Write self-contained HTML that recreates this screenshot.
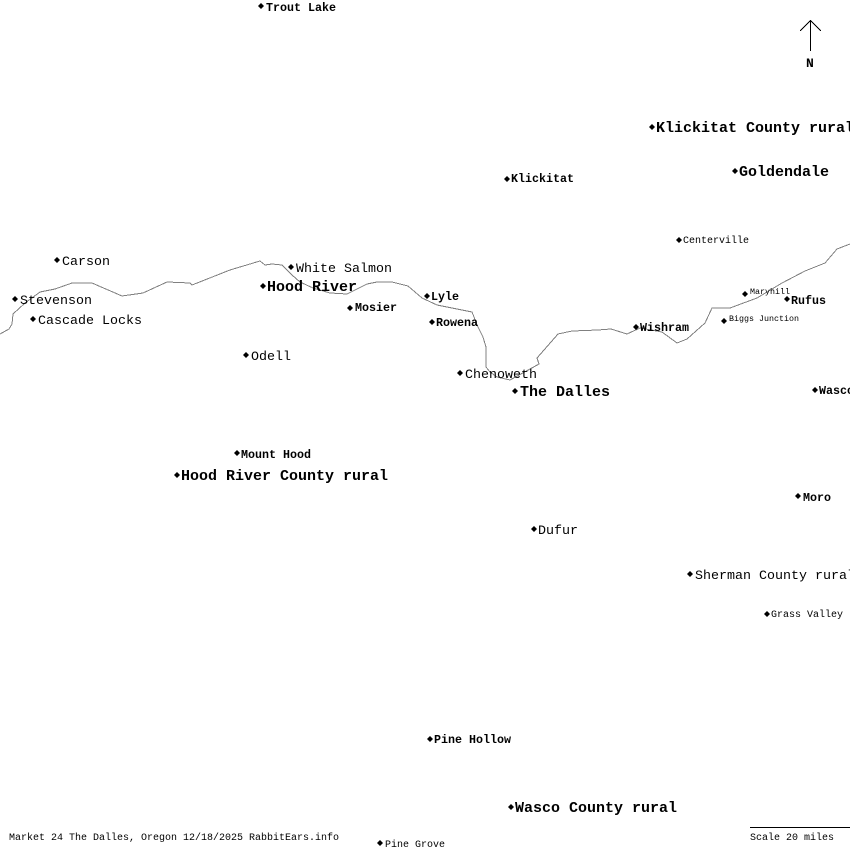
<!DOCTYPE html>
<html><head><meta charset="utf-8">
<style>
html,body{margin:0;padding:0;background:#fff;width:850px;height:850px;overflow:hidden}
svg{display:block}
text{font-family:"Liberation Mono","DejaVu Sans Mono",monospace;fill:#000;white-space:pre;transform:translateY(-1px)}
text.b{transform:none}
.b{font-weight:bold}
.s5{font-size:8.33px}.s6{font-size:10px}.s7{font-size:11.67px}.s8{font-size:13.33px}.s9{font-size:15px}
</style></head><body>
<svg width="850" height="850" viewBox="0 0 850 850" xmlns="http://www.w3.org/2000/svg">
<rect width="850" height="850" fill="#fff"/>
<polyline fill="none" stroke="#808080" stroke-width="1" shape-rendering="crispEdges" points="0,334 9,329 12,324 13,314 25,303 40,292 55,289 72,283 92,283 122,296 143,293 167,282 190,283 192,285 230,270 260,261 265,265 272,264 282,265 292,275 300,282 313,288 330,293 347,294 367,284 377,282 392,282 408,286 422,298 437,305 472,312 478,327 483,337 486,347 486,367 490,372 497,377 510,380 530,369 539,364 537,358 558,334 572,331 598,330 611,329 627,334 640,328 662,332 677,343 687,339 705,323 712,308 730,308 757,298 782,283 805,271 825,263 837,249 850,244"/>
<g fill="#000">
<polygon points="261,3 264,6 261,9 258,6"/>
<polygon points="652,124 655,127 652,130 649,127"/>
<polygon points="735,168 738,171 735,174 732,171"/>
<polygon points="507,176 510,179 507,182 504,179"/>
<polygon points="679,237 682,240 679,243 676,240"/>
<polygon points="57,257 60,260 57,263 54,260"/>
<polygon points="291,264 294,267 291,270 288,267"/>
<polygon points="263,283 266,286 263,289 260,286"/>
<polygon points="15,296 18,299 15,302 12,299"/>
<polygon points="427,293 430,296 427,299 424,296"/>
<polygon points="745,291 748,294 745,297 742,294"/>
<polygon points="787,296 790,299 787,302 784,299"/>
<polygon points="350,305 353,308 350,311 347,308"/>
<polygon points="724,318 727,321 724,324 721,321"/>
<polygon points="33,316 36,319 33,322 30,319"/>
<polygon points="432,319 435,322 432,325 429,322"/>
<polygon points="636,324 639,327 636,330 633,327"/>
<polygon points="246,352 249,355 246,358 243,355"/>
<polygon points="460,370 463,373 460,376 457,373"/>
<polygon points="515,388 518,391 515,394 512,391"/>
<polygon points="815,387 818,390 815,393 812,390"/>
<polygon points="237,450 240,453 237,456 234,453"/>
<polygon points="177,472 180,475 177,478 174,475"/>
<polygon points="798,493 801,496 798,499 795,496"/>
<polygon points="534,526 537,529 534,532 531,529"/>
<polygon points="690,571 693,574 690,577 687,574"/>
<polygon points="767,611 770,614 767,617 764,614"/>
<polygon points="430,736 433,739 430,742 427,739"/>
<polygon points="511,804 514,807 511,810 508,807"/>
<polygon points="380,840 383,843 380,846 377,843"/>
</g>
<text class="b s7" x="266" y="11">Trout Lake</text>
<text class="b s9" x="656" y="132">Klickitat County rural</text>
<text class="b s9" x="739" y="176">Goldendale</text>
<text class="b s7" x="511" y="182">Klickitat</text>
<text class="s6" x="683" y="244">Centerville</text>
<text class="s8" x="62" y="266">Carson</text>
<text class="s8" x="296" y="273">White Salmon</text>
<text class="b s9" x="267" y="291">Hood River</text>
<text class="s8" x="20" y="305">Stevenson</text>
<text class="b s7" x="431" y="300">Lyle</text>
<text class="s5" x="750" y="295">Maryhill</text>
<text class="b s7" x="791" y="304">Rufus</text>
<text class="b s7" x="355" y="311">Mosier</text>
<text class="s5" x="729" y="322">Biggs Junction</text>
<text class="s8" x="38" y="325">Cascade Locks</text>
<text class="b s7" x="436" y="326">Rowena</text>
<text class="b s7" x="640" y="331">Wishram</text>
<text class="s8" x="251" y="361">Odell</text>
<text class="s8" x="465" y="379">Chenoweth</text>
<text class="b s9" x="520" y="396">The Dalles</text>
<text class="b s7" x="819" y="394">Wasco</text>
<text class="b s7" x="241" y="458">Mount Hood</text>
<text class="b s9" x="181" y="480">Hood River County rural</text>
<text class="b s7" x="803" y="501">Moro</text>
<text class="s8" x="538" y="535">Dufur</text>
<text class="s8" x="695" y="580">Sherman County rural</text>
<text class="s6" x="771" y="618">Grass Valley</text>
<text class="b s7" x="434" y="743">Pine Hollow</text>
<text class="b s9" x="515" y="812">Wasco County rural</text>
<text class="s6" x="9" y="841">Market 24 The Dalles, Oregon 12/18/2025 RabbitEars.info</text>
<text class="s6" x="385" y="848">Pine Grove</text>
<text class="s6" x="750" y="841">Scale 20 miles</text>
<line x1="750" y1="827.5" x2="850" y2="827.5" stroke="#000" stroke-width="1"/>
<g stroke="#000" stroke-width="1" fill="none" shape-rendering="crispEdges">
<line x1="810.5" y1="20" x2="810.5" y2="51"/>
<polyline points="800,31 810.5,20.5 821,31"/>
</g>
<text class="b" x="806" y="67" style="font-size:13px">N</text>
</svg>
</body></html>
